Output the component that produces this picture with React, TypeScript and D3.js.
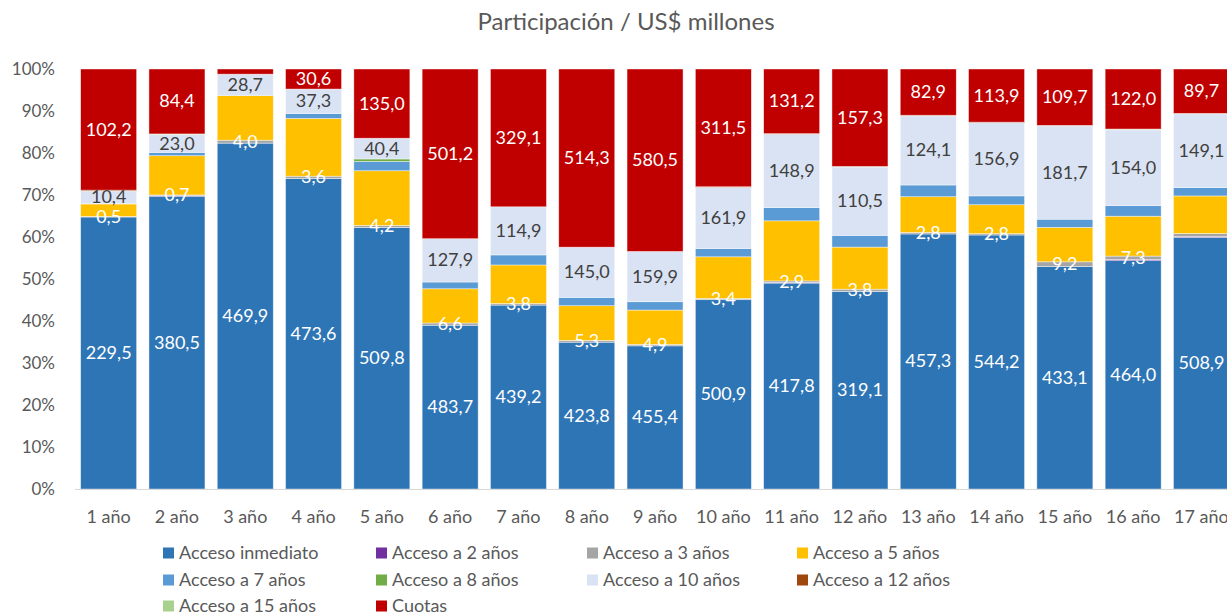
import React from "react";
import * as d3 from "d3";

const categories = ["1 año","2 año","3 año","4 año","5 año","6 año","7 año","8 año","9 año","10 año","11 año","12 año","13 año","14 año","15 año","16 año","17 año"];

const accesoInmediato = [229.5,380.5,469.9,473.6,509.8,483.7,439.2,423.8,455.4,500.9,417.8,319.1,457.3,544.2,433.1,464.0,508.9];
const acceso2 = [0,1.0,0,0,0,0,0,0,0,0,1.5,0,0,0,0,2.0,2.0];
const acceso3 = [0.5,0.7,4.0,3.6,4.2,6.6,3.8,5.3,4.9,3.4,2.9,3.8,2.8,2.8,9.2,7.3,6.0];
const acceso5 = [10.5,51,60.5,88,106.6,101,92,100,109,110,122,68,64,62,67,81,76];
const acceso7 = [0.5,4.3,0.5,7.6,18,20,24,24,26.5,22,27,19,21,19,16,21.6,17];
const acceso8 = [0,0,0,0,5,0,0,0,0,0,0,0,0,0,0,0,0];
const acceso10 = [10.4,23.0,28.7,37.3,40.4,127.9,114.9,145.0,159.9,161.9,148.9,110.5,124.1,156.9,181.7,154.0,149.1];
const acceso12 = [0.8,0,0,0,0,0,0,0,0,1.5,1,1,1,1,1,0,1];
const acceso15 = [0,1.0,0,0,0,0,0,0,0,0,0,0,0,0,0,1.5,0];
const cuotas = [102.2,84.4,7,30.6,135.0,501.2,329.1,514.3,580.5,311.5,131.2,157.3,82.9,113.9,109.7,122.0,89.7];

const seriesNames = ["Acceso inmediato","Acceso a 2 años","Acceso a 3 años","Acceso a 5 años","Acceso a 7 años","Acceso a 8 años","Acceso a 10 años","Acceso a 12 años","Acceso a 15 años","Cuotas"];
const seriesValues = [accesoInmediato,acceso2,acceso3,acceso5,acceso7,acceso8,acceso10,acceso12,acceso15,cuotas];
const seriesColors = ["#2E75B6","#7030A0","#A5A5A5","#FFC000","#5B9BD5","#70AD47","#DAE3F3","#9E480E","#A9D18E","#C00000"];
const labelColors: (string | null)[] = ["#FFFFFF",null,"#FFFFFF",null,null,null,"#404040",null,null,"#FFFFFF"];
// labels not displayed in the original: [seriesIndex, categoryIndex]
const hiddenLabels = [[2,16],[9,2]];

const yTicks = [0,0.1,0.2,0.3,0.4,0.5,0.6,0.7,0.8,0.9,1];

const FONT = "Lato, 'Open Sans', sans-serif";

export default function App() {
  const W = 1227, H = 614;
  const x = d3.scaleBand<string>().domain(categories).range([74.5, 1235.6]).paddingInner(0.18).paddingOuter(0.09);
  const y = d3.scaleLinear().domain([0, 1]).range([489, 69]);

  const rows = categories.map((c, i) => {
    const r: any = { cat: c };
    const total = d3.sum(seriesValues, (s) => s[i]);
    seriesNames.forEach((n, k) => (r[n] = seriesValues[k][i] / total));
    return r;
  });
  const stack = d3.stack<any>().keys(seriesNames)(rows);
  const fmt = (v: number) => v.toFixed(1).replace(".", ",");
  const isHidden = (k: number, i: number) => hiddenLabels.some(([a, b]) => a === k && b === i);

  const legendCols = [163, 376, 587, 797];
  const legendRows = [553, 580, 606];

  return (
    <svg width={W} height={H} style={{ position: "absolute", left: 0, top: 0, background: "#fff" }} fontFamily={FONT}>
      <text x={626} y={30} textAnchor="middle" fontSize={24} fill="#595959">Participación / US$ millones</text>
      {yTicks.map((t) => (
        <text key={t} x={55} y={y(t) + 6} textAnchor="end" fontSize={17} fill="#595959">{d3.format(".0%")(t)}</text>
      ))}
      {stack.map((layer, k) => (
        <g key={k}>
          {layer.map((d, i) => {
            const h = y(d[0]) - y(d[1]);
            if (h <= 0) return null;
            return (
              <rect key={i} x={x(categories[i])} y={y(d[1])} width={x.bandwidth()} height={h}
                fill={seriesColors[k]} stroke="#FFFFFF" strokeOpacity={0.6} strokeWidth={0.7} />
            );
          })}
        </g>
      ))}
      <line x1={75} x2={1236} y1={489.5} y2={489.5} stroke="#D9D9D9" strokeWidth={1} />
      {stack.map((layer, k) =>
        labelColors[k]
          ? layer.map((d, i) =>
              isHidden(k, i) || seriesValues[k][i] <= 0 ? null : (
                <text key={`${k}-${i}`} x={(x(categories[i]) as number) + x.bandwidth() / 2}
                  y={(y(d[0]) + y(d[1])) / 2 + 6} textAnchor="middle" fontSize={18} fill={labelColors[k] as string}>
                  {fmt(seriesValues[k][i])}
                </text>
              )
            )
          : null
      )}
      {categories.map((c) => (
        <text key={c} x={(x(c) as number) + x.bandwidth() / 2} y={523} textAnchor="middle" fontSize={18} fill="#595959">{c}</text>
      ))}
      {seriesNames.map((n, k) => {
        const cx = legendCols[k % 4];
        const cy = legendRows[Math.floor(k / 4)];
        return (
          <g key={n}>
            <rect x={cx} y={cy - 5.5} width={11} height={11} fill={seriesColors[k]} />
            <text x={cx + 16} y={cy + 6} fontSize={18} fill="#595959">{n}</text>
          </g>
        );
      })}
    </svg>
  );
}
